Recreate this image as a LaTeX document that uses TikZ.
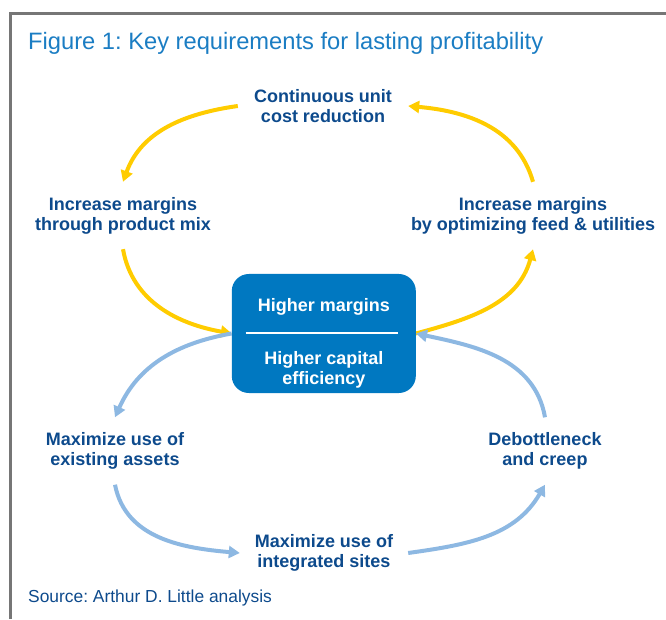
\documentclass[tikz,border=0pt]{standalone}
\usepackage{fontspec}
\setmainfont{Liberation Sans}
\usetikzlibrary{arrows.meta,calc}
\definecolor{titleblue}{RGB}{27,125,195}
\definecolor{lblblue}{RGB}{13,74,140}
\definecolor{hubblue}{RGB}{0,120,193}
\definecolor{ayellow}{RGB}{255,204,0}
\definecolor{ablue}{RGB}{141,184,226}
\definecolor{framegray}{RGB}{118,118,118}
\frenchspacing
\begin{document}
\begin{tikzpicture}[x=1pt,y=1pt,
  lbl/.style={align=center, inner sep=0pt, minimum width=168pt, minimum height=67pt,
    text=lblblue, font=\fontsize{18}{20}\selectfont\bfseries},
  hubbox/.style={fill=hubblue, rounded corners=17pt, minimum width=184pt,
    minimum height=119pt, inner sep=0pt},
  hubtxt/.style={text=white, align=center, inner sep=0pt,
    font=\fontsize{18}{20}\selectfont\bfseries},
  yarrow/.style={draw=ayellow, line width=4pt, -{Triangle[length=11pt,width=12pt]}},
  barrow/.style={draw=ablue, line width=4pt, -{Triangle[length=11pt,width=12pt]}}]
\useasboundingbox (0,0) rectangle (666,619);
\draw[framegray, line width=2.5pt] (10.5,0) -- (10.5,605.5) -- (666,605.5);
\node[anchor=base west, text=titleblue, inner sep=0pt,
  font=\fontsize{23.7}{28}\selectfont] (title) at (28,569)
  {Figure 1: Key requirements for lasting profitability};
\node[anchor=base west, text=lblblue, inner sep=0pt,
  font=\fontsize{17.4}{20}\selectfont] (src) at (28,17)
  {Source: Arthur D. Little analysis};

\node[lbl, minimum width=170pt] (top) at (323,513) {Continuous unit\\cost reduction};
\node[lbl] (left) at (123,403.5) {Increase margins\\through product mix};
\node[lbl] (right) at (533,403.5) {Increase margins\\by optimizing feed \& utilities};
\node[lbl] (bl) at (115,168) {Maximize use of\\existing assets};
\node[lbl] (br) at (545,168) {Debottleneck\\and creep};
\node[lbl] (bottom) at (324,66) {Maximize use of\\integrated sites};

\draw[yarrow] (top.west) to[out=188,in=70] (left.north);
\draw[yarrow] (right.north) to[out=106,in=-5] (top.east);
\draw[yarrow] (left.south) to[out=-80,in=170] (323.8-92,285.5) coordinate (hw);
\draw[yarrow] (323.8+92,285.5) coordinate (he) to[out=15,in=-105] (right.south);

\draw[barrow] (bl.south) to[out=-79,in=175] (bottom.west);
\draw[barrow] (bottom.east) to[out=8,in=-120] (br.south);

\node[hubbox] (hub) at (323.8,285.5) {};
\draw[barrow] (hub.west) to[out=190,in=66] (bl.north);
\draw[barrow] (br.north) to[out=100,in=-12] (hub.east);

\node[hubtxt] (h1) at ([yshift=26.5pt]hub.center) {Higher margins};
\draw[white, line width=2pt] ([xshift=14pt]hub.west) -- ([xshift=-18pt]hub.east);
\node[hubtxt] (h2) at ([yshift=-36pt]hub.center) {Higher capital\\efficiency};
\end{tikzpicture}
\end{document}
